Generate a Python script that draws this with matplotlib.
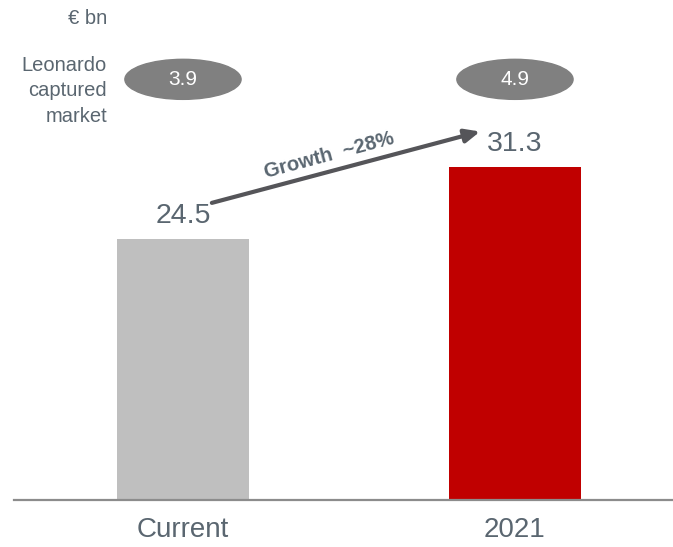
import matplotlib.pyplot as plt
from matplotlib.patches import Ellipse

plt.rcParams['font.family'] = ['Liberation Sans', 'DejaVu Sans']

categories = ['Current', '2021']
market = [24.5, 31.3]
captured = [3.9, 4.9]
bar_colors = ['#bfbfbf', '#c00000']
growth_label = 'Growth  ~28%'

text_col = '#5a6670'

fig = plt.figure(figsize=(6.73, 5.47), dpi=100)
ax = fig.add_axes([14 / 673, 47 / 547, 659 / 673, 500 / 547])

x = range(len(categories))
ax.bar(x, market, width=0.4, color=bar_colors)
ax.set_xlim(-0.509, 1.476)
ax.set_ylim(0, 46.95)

for s in ['top', 'right', 'left']:
    ax.spines[s].set_visible(False)
ax.spines['bottom'].set_color('#8c8c8c')
ax.spines['bottom'].set_linewidth(1.6)
ax.set_yticks([])
ax.set_xticks(list(x))
ax.set_xticklabels(categories, fontsize=20, color=text_col)
ax.tick_params(axis='x', length=0, pad=12)

# value labels
for i, v in enumerate(market):
    ax.annotate(f'{v}', (i, v), xytext=(0, 7), textcoords='offset points',
                ha='center', va='bottom', fontsize=20.5, color=text_col)

# captured market ellipses
for i, c in enumerate(captured):
    ax.add_patch(Ellipse((i, 39.5), 0.35, 3.76, color='#808080', clip_on=False))
    ax.text(i, 39.5, f'{c}', ha='center', va='center', fontsize=15, color='white')

# growth arrow
ax.annotate('', xy=(0.895, 34.6), xytext=(0.087, 27.9),
            arrowprops=dict(arrowstyle='-|>,head_length=0.9,head_width=0.4',
                            color='#555559', lw=3, shrinkA=0, shrinkB=0))
ax.text(0.44, 32.4, growth_label, rotation=15, ha='center', va='center',
        fontsize=14.5, fontweight='bold', color=text_col, rotation_mode='anchor')

fig.text(107 / 673, 1 - 19 / 547, '€ bn', ha='right', va='center', fontsize=14.5, color=text_col)
fig.text(107 / 673, 1 - 91 / 547, 'Leonardo\ncaptured\nmarket', ha='right', va='center',
         fontsize=14.5, color=text_col, linespacing=1.45)

fig.savefig('out.png', dpi=100)
